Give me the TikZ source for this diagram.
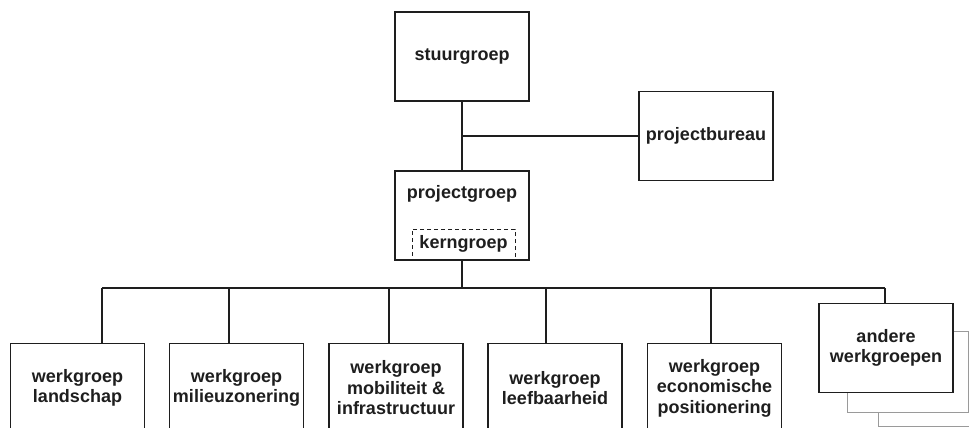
\documentclass[tikz,border=0pt]{standalone}
\usepackage{fontspec}
\setmainfont{Liberation Sans}
\definecolor{ink}{HTML}{1E1E1E}
\definecolor{shadowline}{HTML}{9A9A9A}
\newcommand{\boxfont}{\fontsize{18}{20.5}\selectfont\bfseries}
\begin{document}
\begin{tikzpicture}[x=1pt,y=-1pt,
  box/.style={draw=ink,line width=1.6pt,fill=white,minimum width=134pt,
    minimum height=89pt,inner sep=0pt,align=center,font=\boxfont,text=ink},
  lbl/.style={inner sep=0pt,font=\boxfont,text=ink},
  link/.style={draw=ink,line width=1.1pt},
  stackline/.style={draw=shadowline,line width=0.9pt}]
\useasboundingbox (0,0) rectangle (969,428);
\clip (0,0) rectangle (969,428);

% top of the organisation
\node[box] (stuur) at (462,56.5) {stuurgroep};
\node[box] (bureau) at (706,136) {projectbureau};
\node[box] (pg) at (462,215.5) {};
\node[lbl] (pgt) at (462,194) {projectgroep};
\node[draw=ink,dashed,dash pattern=on 4pt off 3pt,line width=1pt,
  minimum width=103pt,minimum height=30pt,inner sep=0pt,
  font=\boxfont,text=ink] (kern) at (463.5,244) {kerngroep};

\draw[link] (stuur.south) -- (pg.north);
\coordinate (hub) at (stuur.south |- bureau.west);
\draw[link] (hub) -- (bureau.west);

% stacked sheets behind the last box
\draw[stackline] (878,412) -- (878,426) -- (975,426);
\draw[stackline] (953,331) -- (968,331) -- (968,412) -- (847,412) -- (847,392);

% working groups
\node[box] (w1) at (77.5,388) {werkgroep\\landschap};
\node[box] (w2) at (236.5,388) {werkgroep\\milieuzonering};
\node[box] (w3) at (396,388) {werkgroep\\mobiliteit \&\\infrastructuur};
\node[box] (w4) at (555,388) {werkgroep\\leefbaarheid};
\node[box] (w5) at (714.5,388) {werkgroep\\economische\\positionering};
\node[box] (andere) at (886,348) {andere\\werkgroepen};

% distribution bus
\coordinate (busL) at (102,288);
\coordinate (busR) at (885,288);
\draw[link] (pg.south) -- (pg.south |- busL);
\draw[link] (busL) -- (busR);
\foreach \n/\x in {w1/102,w2/229,w3/389,w4/546,w5/711,andere/885}{
  \coordinate (j\n) at (\x,288);
  \draw[link] (j\n) -- (j\n |- \n.north);
}
\end{tikzpicture}
\end{document}
